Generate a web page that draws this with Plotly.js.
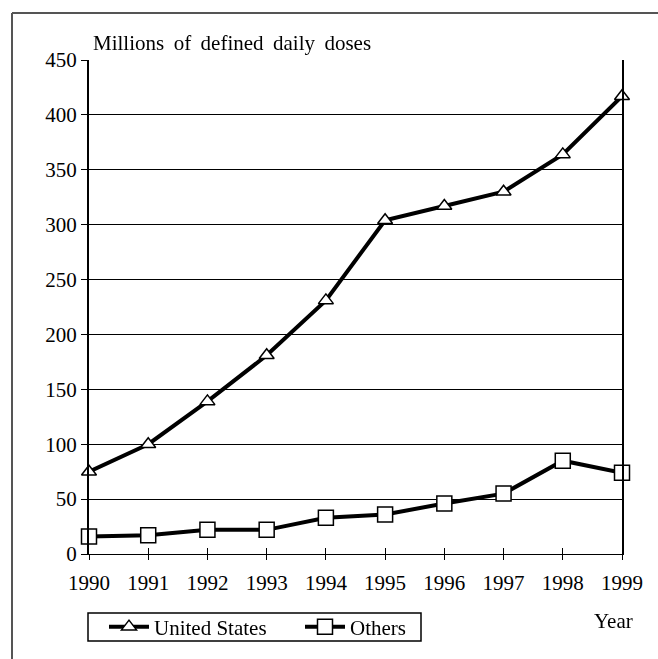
<!DOCTYPE html>
<html>
<head>
<meta charset="utf-8">
<script src="https://cdn.plot.ly/plotly-3.0.1.min.js"></script>
<style>
html,body{margin:0;padding:0;background:#fff;}
#chart{width:658px;height:659px;}
</style>
</head>
<body>
<div id="chart"></div>
<script>
var years = [1990, 1991, 1992, 1993, 1994, 1995, 1996, 1997, 1998, 1999];
var unitedStates = [75, 100, 139, 181, 231, 304, 317, 330, 364, 417];
var others = [16, 17, 22, 22, 33, 36, 46, 55, 85, 74];
var yTicks = [0, 50, 100, 150, 200, 250, 300, 350, 400, 450];
var yTitle = "Millions \u2009of \u2009defined \u2009daily \u2009doses";
var xTitle = "Year";

var W = 658, H = 659;
var mL = 89, mR = 36, mT = 60, mB = 105;
var pw = W - mL - mR, ph = H - mT - mB;
function px(x){ return (x - mL) / pw; }
function py(y){ return (H - mB - y) / ph; }

var FAM = "Liberation Serif";
function f(sz){ return {family: FAM, size: sz, color: "#000"}; }

var traces = [
  {
    x: years, y: unitedStates, name: "United States", type: "scatter", mode: "lines+markers",
    cliponaxis: false, legend: "legend",
    line: {color: "#000", width: 4},
    marker: {symbol: "triangle-up", size: 13, color: "#fff", line: {color: "#000", width: 1.5}}
  },
  {
    x: years, y: others, name: "Others", type: "scatter", mode: "lines+markers",
    cliponaxis: false, legend: "legend2",
    line: {color: "#000", width: 4},
    marker: {symbol: "square", size: 15, color: "#fff", line: {color: "#000", width: 1.5}}
  },
  {
    x: years, y: others, xaxis: "x2", yaxis: "y", type: "scatter", mode: "markers",
    opacity: 0, showlegend: false, hoverinfo: "skip", marker: {size: 1}
  }
];

var legBase = {
  orientation: "h", xanchor: "left", y: py(627), yanchor: "middle",
  borderwidth: 0, bgcolor: "rgba(0,0,0,0)", font: f(21), itemwidth: 40
};
var leg1 = Object.assign({}, legBase, {x: px(104)});
var leg2 = Object.assign({}, legBase, {x: px(300)});

var layout = {
  width: W, height: H,
  margin: {l: mL, r: mR, t: mT, b: mB, pad: 0},
  paper_bgcolor: "#fff", plot_bgcolor: "#fff",
  font: f(21),
  showlegend: true,
  legend: leg1,
  legend2: leg2,
  xaxis: {
    range: [1990, 1999], tickvals: years, ticktext: years.map(String),
    showgrid: false, zeroline: false, showline: true, linecolor: "#000", linewidth: 1,
    ticks: "outside", ticklen: 5, tickcolor: "#000", tickwidth: 1,
    tickfont: f(21), ticklabelstandoff: 5
  },
  xaxis2: {
    overlaying: "x", anchor: "y", side: "bottom", range: [1990, 1999], tickvals: years,
    showgrid: false, zeroline: false, showline: false,
    ticks: "inside", ticklen: 6, tickcolor: "#000", tickwidth: 1, showticklabels: false
  },
  yaxis: {
    range: [0, 450], tickvals: yTicks, ticktext: yTicks.map(String),
    showgrid: true, gridcolor: "#000", gridwidth: 1, zeroline: false,
    showline: true, linecolor: "#000", linewidth: 2, mirror: true,
    ticks: "outside", ticklen: 6, tickcolor: "#000", tickwidth: 1,
    tickfont: f(21), ticklabelstandoff: 0
  },
  annotations: [
    {text: yTitle, xref: "paper", yref: "paper", x: px(91), y: py(43), xanchor: "left", yanchor: "middle", showarrow: false, font: f(21)},
    {text: xTitle, xref: "paper", yref: "paper", x: px(613), y: py(621), xanchor: "center", yanchor: "middle", showarrow: false, font: f(21)}
  ],
  shapes: [
    {type: "line", xref: "paper", yref: "paper", x0: px(12), x1: px(660), y0: py(13), y1: py(13), line: {color: "#555", width: 2}},
    {type: "line", xref: "paper", yref: "paper", x0: px(12), x1: px(12), y0: py(13), y1: py(661), line: {color: "#555", width: 2}},
    {type: "rect", xref: "paper", yref: "paper", x0: px(88), x1: px(421), y0: py(613), y1: py(641), line: {color: "#000", width: 1.5}}
  ]
};

Plotly.newPlot("chart", traces, layout, {displayModeBar: false, staticPlot: true});
</script>
</body>
</html>
